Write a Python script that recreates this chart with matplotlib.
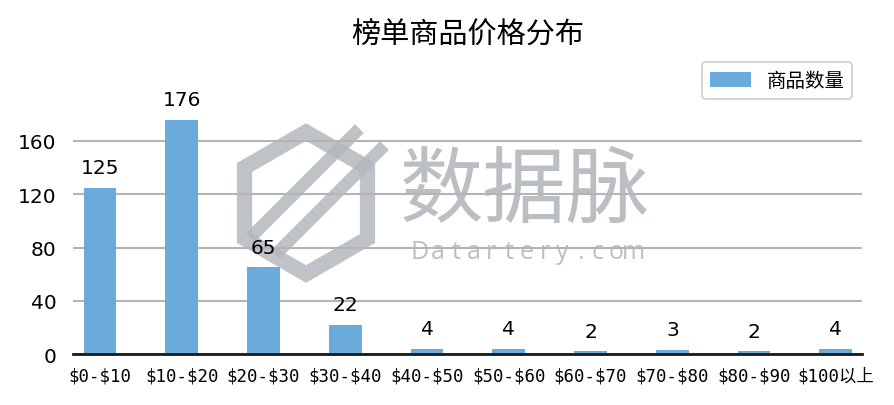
import matplotlib.pyplot as plt
from matplotlib.patches import RegularPolygon

plt.rcParams['font.family'] = ['DejaVu Sans', 'Noto Sans CJK SC']

price_ranges = ['$0-$10', '$10-$20', '$20-$30', '$30-$40', '$40-$50',
                '$50-$60', '$60-$70', '$70-$80', '$80-$90', '$100以上']
counts = [125, 176, 65, 22, 4, 4, 2, 3, 2, 4]
yticks = [0, 40, 80, 120, 160]

bar_color = '#6aabdc'
grid_color = '#b4b4b4'
mark_color = '#b4b8bd'

fig = plt.figure(figsize=(8.94, 4.06), dpi=100)
ax = fig.add_axes([0.0817, 0.1256, 0.8825, 0.7214])
ax.patch.set_alpha(0)

x = list(range(len(price_ranges)))
ax.bar(x, counts, width=0.40, color=bar_color, label='商品数量', zorder=3)
for xi, v in zip(x, counts):
    ax.text(xi, v + 8, str(v), ha='center', va='bottom', fontsize=14.5, zorder=4)

ax.set_xlim(-0.33, 9.32)
ax.set_ylim(0, 220)
ax.set_yticks(yticks)
ax.set_xticks(x)
ax.set_xticklabels(price_ranges, family=['DejaVu Sans Mono', 'Noto Sans CJK SC'],
                   fontsize=12.5, parse_math=False)
ax.tick_params(axis='y', labelsize=14.5, length=0, pad=12)
ax.tick_params(axis='x', length=0, pad=9)
ax.yaxis.grid(True, color=grid_color, linewidth=1.5, zorder=0)
for s in ['top', 'right', 'left']:
    ax.spines[s].set_visible(False)
ax.spines['bottom'].set_linewidth(2)
ax.spines['bottom'].set_color('#1a1a1a')
ax.spines['bottom'].set_zorder(5)

fig.text(0.523, 0.912, '榜单商品价格分布', ha='center', va='center', fontsize=21,
         family=['Noto Sans CJK SC', 'DejaVu Sans'])

leg = ax.legend(loc='upper right', bbox_to_anchor=(1.0, 1.03),
                prop={'family': ['Noto Sans CJK SC', 'DejaVu Sans'], 'size': 14},
                frameon=True, fancybox=True, edgecolor='#cccccc',
                handlelength=2.1, handleheight=0.8, borderpad=0.4,
                handletextpad=0.8)
leg.get_frame().set_linewidth(1.5)

# watermark logo, drawn behind the axes content
hexagon = RegularPolygon((3.06, 2.02), numVertices=6, radius=0.71,
                         orientation=0, transform=fig.dpi_scale_trans,
                         fill=False, edgecolor=mark_color, linewidth=11,
                         alpha=0.85, zorder=-2)
fig.patches.append(hexagon)
for x0, y0, x1, y1 in [(2.55, 1.72, 3.55, 2.72), (2.80, 1.55, 3.80, 2.55)]:
    fig.add_artist(plt.Line2D([x0, x1], [y0, y1], transform=fig.dpi_scale_trans,
                              color=mark_color, linewidth=9, alpha=0.85,
                              zorder=-2))
fig.text(0.447, 0.527, '数据脉', fontsize=60, color=mark_color, alpha=0.9,
         ha='left', va='center', family=['Noto Sans CJK SC', 'DejaVu Sans'],
         zorder=-2)
mark_url = 'Datartery.com'
for i, ch in enumerate(mark_url):
    fig.text((420 + i * 17.8) / 894, 0.379, ch, fontsize=18, color=mark_color,
             alpha=0.9, ha='center', va='center',
             family=['Open Sans', 'DejaVu Sans'], zorder=-2)

fig.savefig('out.png', dpi=100)
